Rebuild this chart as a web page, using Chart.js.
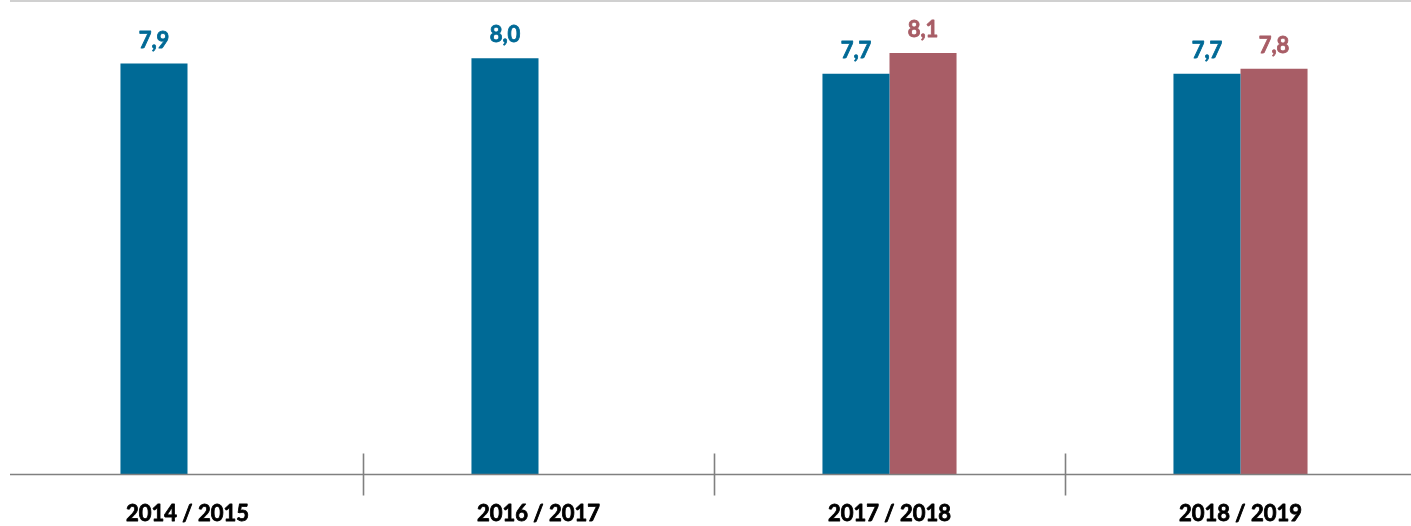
<!DOCTYPE html>
<html>
<head>
<meta charset="utf-8">
<script src="https://cdn.jsdelivr.net/npm/chart.js@4.4.1/dist/chart.umd.min.js"></script>
<style>
  html, body { margin: 0; padding: 0; background: #fff; overflow: hidden; }
  #wrap { width: 1416px; height: 526px; position: relative; }
</style>
</head>
<body>
<div id="wrap"><canvas id="c"></canvas></div>
<script>
const categories = ["2014 / 2015", "2016 / 2017", "2017 / 2018", "2018 / 2019"];
const seriesBlue = [7.9, 8.0, 7.7, 7.7];
const seriesRed = [null, null, 8.1, 7.8];
const blueColor = "#006a96";
const redColor = "#a85d66";

const decorPlugin = {
  id: "decor",
  afterDraw(chart) {
    const { ctx, chartArea, scales } = chart;
    const x = scales.x;
    ctx.save();
    // top light line
    ctx.strokeStyle = "#d0d0d0";
    ctx.lineWidth = 2;
    ctx.beginPath();
    ctx.moveTo(chartArea.left - 2, chartArea.top);
    ctx.lineTo(chartArea.right, chartArea.top);
    ctx.stroke();
    // bottom axis line
    ctx.strokeStyle = "#808080";
    ctx.lineWidth = 1.6;
    ctx.beginPath();
    ctx.moveTo(chartArea.left - 2, chartArea.bottom);
    ctx.lineTo(chartArea.right, chartArea.bottom);
    ctx.stroke();
    // separators between categories
    for (let i = 0; i < categories.length - 1; i++) {
      const px = (x.getPixelForValue(i) + x.getPixelForValue(i + 1)) / 2;
      ctx.beginPath();
      ctx.moveTo(Math.round(px) + 0.5, chartArea.bottom - 21);
      ctx.lineTo(Math.round(px) + 0.5, chartArea.bottom + 21);
      ctx.stroke();
    }
    // category labels
    ctx.textAlign = "center";
    ctx.textBaseline = "middle";
    ctx.lineJoin = "round";
    ctx.fillStyle = "#000";
    ctx.strokeStyle = "#000";
    ctx.lineWidth = 0.8;
    ctx.font = "bold 22px Lato";
    categories.forEach((lab, i) => {
      const px = x.getPixelForValue(i);
      ctx.fillText(lab, px, chartArea.bottom + 39);
      ctx.strokeText(lab, px, chartArea.bottom + 39);
    });
    // value labels
    ctx.font = "bold 22px Lato";
    chart.data.datasets.forEach((ds, di) => {
      const meta = chart.getDatasetMeta(di);
      meta.data.forEach((bar, i) => {
        const v = ds.data[i];
        if (v === null || v === undefined) return;
        const t = v.toFixed(1).replace(".", ",");
        ctx.fillStyle = ds.backgroundColor;
        ctx.strokeStyle = ds.backgroundColor;
        ctx.fillText(t, bar.x, bar.y - 23);
        ctx.strokeText(t, bar.x, bar.y - 23);
      });
    });
    ctx.restore();
  }
};

new Chart(document.getElementById("c"), {
  type: "bar",
  data: {
    labels: categories,
    datasets: [
      { data: seriesBlue, backgroundColor: blueColor },
      { data: seriesRed, backgroundColor: redColor }
    ]
  },
  options: {
    responsive: true,
    maintainAspectRatio: false,
    animation: false,
    layout: { padding: { left: 12, right: 0, top: 1, bottom: 51.5 } },
    plugins: { legend: { display: false }, tooltip: { enabled: false } },
    datasets: { bar: { categoryPercentage: 0.382, barPercentage: 1.0 } },
    scales: {
      x: { display: false },
      y: { display: false, min: 0, max: 9.1 }
    }
  },
  plugins: [decorPlugin]
});
</script>
</body>
</html>
